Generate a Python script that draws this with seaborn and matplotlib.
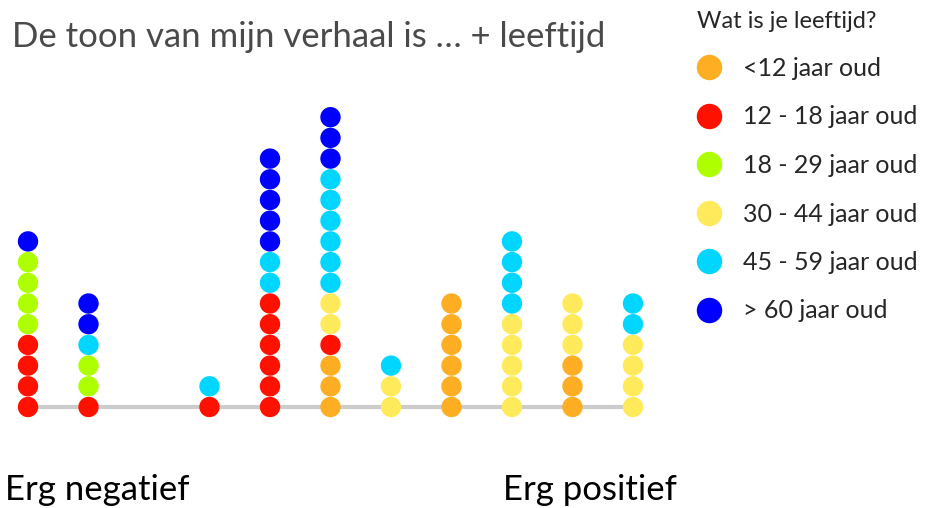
import pandas as pd
import seaborn as sns
import matplotlib.pyplot as plt

# tone scale: 0 = erg negatief ... 10 = erg positief
tone = list(range(11))
age_groups = ['<12 jaar oud', '12 - 18 jaar oud', '18 - 29 jaar oud',
              '30 - 44 jaar oud', '45 - 59 jaar oud', '> 60 jaar oud']
age_colors = ['#FDAE22', '#FF1100', '#AEFF00', '#FFEA5C', '#00D6FF', '#0000FF']

# number of answers per tone position for each age group
n_under12 = [0, 0, 0, 0, 0, 3, 0, 6, 0, 3, 0]
n_12_18 = [4, 1, 0, 1, 6, 1, 0, 0, 0, 0, 0]
n_18_29 = [4, 2, 0, 0, 0, 0, 0, 0, 0, 0, 0]
n_30_44 = [0, 0, 0, 0, 0, 2, 2, 0, 5, 3, 4]
n_45_59 = [0, 1, 0, 1, 2, 6, 1, 0, 4, 0, 2]
n_60plus = [1, 2, 0, 0, 5, 3, 0, 0, 0, 0, 0]
counts = [n_under12, n_12_18, n_18_29, n_30_44, n_45_59, n_60plus]

# one row per dot, stacked youngest at the bottom
rows = []
for t in tone:
    level = 0
    for age, cnt in zip(age_groups, counts):
        for _ in range(cnt[t]):
            rows.append({'tone': t, 'level': level, 'age': age})
            level += 1
df = pd.DataFrame(rows)

sns.set_style('white')
plt.rcParams['font.family'] = ['Lato', 'DejaVu Sans']

fig = plt.figure(figsize=(9.3, 5.08), dpi=100)
ax = fig.add_axes([0, 78 / 508, 700 / 930, 340 / 508])

ax.hlines(0, min(tone), max(tone), color='#cccccc', linewidth=3, zorder=1)
sns.scatterplot(data=df, x='tone', y='level', hue='age', hue_order=age_groups,
                palette=age_colors, s=215, linewidth=0, zorder=2, ax=ax)

ax.set_xlim(-28 / 60.5, 672 / 60.5)
ax.set_ylim(-23 / 20.7, 317 / 20.7)
ax.axis('off')

sns.move_legend(ax, loc='upper left', bbox_to_anchor=(679 / 930, 1 + 7 / 508),
                bbox_transform=fig.transFigure, frameon=False,
                title='Wat is je leeftijd?', title_fontsize=17, fontsize=18,
                labelspacing=1.02, handlelength=1.0, handletextpad=0.86,
                borderpad=0.2, markerscale=1.25)
leg = ax.get_legend()
leg._legend_box.align = 'left'

fig.text(12 / 930, 1 - 37 / 508, 'De toon van mijn verhaal is … + leeftijd',
         fontsize=25, color='#4a4a4a', va='center', ha='left')
fig.text(5 / 930, 1 - 490 / 508, 'Erg negatief', fontsize=25, color='black',
         va='center', ha='left')
fig.text(503 / 930, 1 - 490 / 508, 'Erg positief', fontsize=25, color='black',
         va='center', ha='left')

fig.savefig('out.png', dpi=100)
